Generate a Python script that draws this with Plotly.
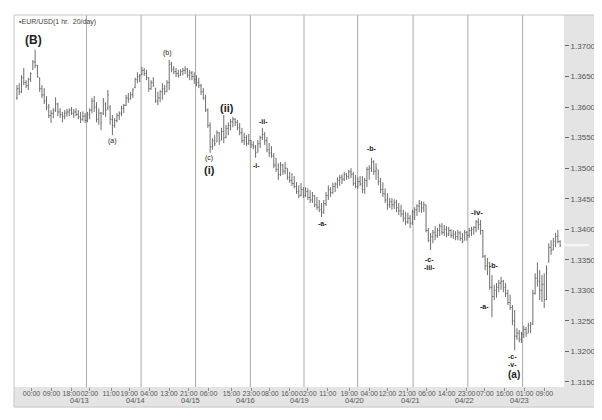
import plotly.graph_objects as go

# ---------------- data (hourly bars, index = bar number) ----------------
bar_high = [
 1.3636,1.3639,1.3652,1.3664,1.3644,1.3648,1.3657,1.3677,1.3694,1.3669,
 1.3648,1.3636,1.3631,1.3618,1.3605,1.3595,1.3598,1.3616,1.3607,1.3598,
 1.3592,1.3595,1.3597,1.3598,1.3600,1.3597,1.3598,1.3595,1.3592,1.3593,
 1.3590,1.3592,1.3598,1.3615,1.3618,1.3608,1.3598,1.3592,1.3615,1.3608,
 1.3628,1.3603,1.3587,1.3582,1.3590,1.3593,1.3602,1.3605,1.3620,1.3623,
 1.3625,1.3631,1.3648,1.3657,1.3654,1.3666,1.3664,1.3661,1.3649,1.3644,
 1.3649,1.3631,1.3625,1.3628,1.3639,1.3636,1.3644,1.3677,1.3674,1.3667,
 1.3664,1.3661,1.3662,1.3664,1.3667,1.3664,1.3661,1.3659,1.3657,1.3652,
 1.3648,1.3638,1.3631,1.3620,1.3598,1.3575,1.3549,1.3554,1.3562,1.3559,
 1.3566,1.3587,1.3571,1.3575,1.3580,1.3584,1.3582,1.3579,1.3574,1.3566,
 1.3558,1.3554,1.3556,1.3546,1.3544,1.3538,1.3546,1.3553,1.3566,1.3559,
 1.3551,1.3541,1.3536,1.3525,1.3517,1.3508,1.3510,1.3507,1.3510,1.3500,
 1.3494,1.3492,1.3487,1.3477,1.3472,1.3476,1.3469,1.3469,1.3467,1.3464,
 1.3461,1.3456,1.3453,1.3448,1.3443,1.3448,1.3461,1.3472,1.3469,1.3476,
 1.3477,1.3485,1.3489,1.3490,1.3494,1.3492,1.3497,1.3500,1.3494,1.3489,
 1.3485,1.3487,1.3487,1.3484,1.3502,1.3505,1.3517,1.3513,1.3508,1.3497,
 1.3484,1.3477,1.3467,1.3459,1.3451,1.3451,1.3449,1.3448,1.3443,1.3440,
 1.3432,1.3428,1.3427,1.3423,1.3432,1.3436,1.3441,1.3448,1.3446,1.3445,
 1.3440,1.3402,1.3394,1.3399,1.3405,1.3402,1.3409,1.3410,1.3407,1.3405,
 1.3404,1.3400,1.3399,1.3397,1.3399,1.3397,1.3394,1.3399,1.3397,1.3402,
 1.3404,1.3405,1.3415,1.3418,1.3415,1.3399,1.3358,1.3353,1.3346,1.3325,
 1.3309,1.3312,1.3317,1.3322,1.3317,1.3312,1.3301,1.3293,1.3276,1.3268,
 1.3238,1.3235,1.3232,1.3242,1.3240,1.3247,1.3248,1.3301,1.3328,1.3346,
 1.3333,1.3325,1.3328,1.3341,1.3377,1.3382,1.3386,1.3394,1.3399,1.3382]

bar_low = [
 1.3612,1.3620,1.3623,1.3636,1.3631,1.3628,1.3641,1.3661,1.3664,1.3648,
 1.3625,1.3615,1.3605,1.3595,1.3582,1.3574,1.3582,1.3592,1.3585,1.3582,
 1.3575,1.3580,1.3584,1.3585,1.3587,1.3582,1.3585,1.3580,1.3574,1.3577,
 1.3574,1.3575,1.3580,1.3590,1.3592,1.3575,1.3571,1.3562,1.3587,1.3584,
 1.3595,1.3571,1.3554,1.3566,1.3575,1.3579,1.3585,1.3590,1.3602,1.3607,
 1.3612,1.3615,1.3631,1.3639,1.3641,1.3652,1.3651,1.3644,1.3625,1.3628,
 1.3633,1.3607,1.3603,1.3608,1.3612,1.3620,1.3625,1.3628,1.3657,1.3654,
 1.3649,1.3648,1.3651,1.3652,1.3654,1.3648,1.3644,1.3644,1.3638,1.3634,
 1.3631,1.3620,1.3612,1.3592,1.3566,1.3525,1.3530,1.3536,1.3543,1.3538,
 1.3546,1.3541,1.3549,1.3554,1.3562,1.3567,1.3569,1.3562,1.3554,1.3541,
 1.3538,1.3536,1.3538,1.3533,1.3531,1.3517,1.3526,1.3533,1.3546,1.3538,
 1.3526,1.3518,1.3517,1.3500,1.3494,1.3481,1.3487,1.3489,1.3490,1.3481,
 1.3476,1.3471,1.3467,1.3458,1.3451,1.3454,1.3451,1.3453,1.3448,1.3443,
 1.3443,1.3436,1.3432,1.3428,1.3420,1.3425,1.3438,1.3448,1.3453,1.3458,
 1.3461,1.3467,1.3471,1.3474,1.3479,1.3481,1.3482,1.3484,1.3471,1.3467,
 1.3466,1.3471,1.3459,1.3458,1.3469,1.3481,1.3494,1.3489,1.3481,1.3472,
 1.3459,1.3453,1.3443,1.3432,1.3435,1.3432,1.3433,1.3428,1.3423,1.3420,
 1.3412,1.3407,1.3409,1.3402,1.3407,1.3415,1.3422,1.3428,1.3427,1.3428,
 1.3395,1.3379,1.3366,1.3377,1.3382,1.3386,1.3389,1.3391,1.3389,1.3387,
 1.3389,1.3386,1.3384,1.3382,1.3382,1.3381,1.3377,1.3382,1.3381,1.3386,
 1.3389,1.3391,1.3395,1.3399,1.3391,1.3353,1.3333,1.3325,1.3301,1.3256,
 1.3284,1.3288,1.3297,1.3301,1.3297,1.3289,1.3276,1.3268,1.3243,1.3202,
 1.3219,1.3215,1.3214,1.3222,1.3224,1.3230,1.3230,1.3243,1.3293,1.3306,
 1.3284,1.3281,1.3271,1.3284,1.3346,1.3358,1.3366,1.3371,1.3377,1.3371]

bar_open = [
 1.3615,1.3630,1.3625,1.3648,1.3640,1.3635,1.3645,1.3662,1.3674,1.3668,
 1.3648,1.3630,1.3620,1.3610,1.3600,1.3586,1.3590,1.3595,1.3605,1.3592,
 1.3588,1.3585,1.3590,1.3592,1.3595,1.3590,1.3592,1.3588,1.3584,1.3580,
 1.3585,1.3578,1.3588,1.3595,1.3610,1.3600,1.3580,1.3590,1.3590,1.3605,
 1.3598,1.3600,1.3580,1.3570,1.3578,1.3586,1.3590,1.3598,1.3603,1.3615,
 1.3614,1.3620,1.3632,1.3645,1.3650,1.3653,1.3660,1.3655,1.3648,1.3630,
 1.3640,1.3631,1.3610,1.3615,1.3625,1.3630,1.3625,1.3640,1.3670,1.3662,
 1.3658,1.3655,1.3652,1.3658,1.3660,1.3662,1.3652,1.3656,1.3650,1.3645,
 1.3640,1.3635,1.3625,1.3615,1.3595,1.3570,1.3535,1.3545,1.3543,1.3558,
 1.3546,1.3560,1.3550,1.3565,1.3570,1.3576,1.3580,1.3575,1.3566,1.3558,
 1.3545,1.3550,1.3540,1.3545,1.3538,1.3535,1.3526,1.3540,1.3550,1.3555,
 1.3545,1.3530,1.3525,1.3520,1.3505,1.3498,1.3490,1.3505,1.3495,1.3500,
 1.3485,1.3480,1.3475,1.3470,1.3462,1.3455,1.3465,1.3455,1.3462,1.3452,
 1.3448,1.3455,1.3440,1.3436,1.3432,1.3428,1.3442,1.3455,1.3465,1.3460,
 1.3470,1.3474,1.3480,1.3485,1.3482,1.3490,1.3486,1.3494,1.3490,1.3475,
 1.3470,1.3478,1.3474,1.3465,1.3480,1.3498,1.3500,1.3510,1.3495,1.3497,
 1.3478,1.3465,1.3458,1.3448,1.3440,1.3445,1.3440,1.3444,1.3435,1.3430,
 1.3425,1.3418,1.3412,1.3418,1.3410,1.3428,1.3432,1.3438,1.3442,1.3435,
 1.3440,1.3398,1.3382,1.3388,1.3395,1.3390,1.3398,1.3405,1.3395,1.3400,
 1.3392,1.3398,1.3390,1.3392,1.3388,1.3394,1.3385,1.3382,1.3395,1.3390,
 1.3398,1.3400,1.3403,1.3412,1.3408,1.3398,1.3356,1.3340,1.3345,1.3305,
 1.3290,1.3300,1.3305,1.3312,1.3315,1.3305,1.3295,1.3280,1.3272,1.3250,
 1.3225,1.3230,1.3220,1.3228,1.3236,1.3230,1.3242,1.3245,1.3295,1.3320,
 1.3315,1.3300,1.3310,1.3285,1.3346,1.3370,1.3366,1.3380,1.3388,1.3380]

bar_close = [
 1.3630,1.3625,1.3648,1.3640,1.3635,1.3645,1.3655,1.3674,1.3668,1.3650,
 1.3630,1.3620,1.3610,1.3600,1.3586,1.3590,1.3595,1.3605,1.3592,1.3588,
 1.3585,1.3590,1.3592,1.3595,1.3590,1.3592,1.3588,1.3584,1.3580,1.3585,
 1.3578,1.3588,1.3595,1.3610,1.3600,1.3580,1.3590,1.3575,1.3610,1.3595,
 1.3620,1.3580,1.3570,1.3578,1.3586,1.3590,1.3598,1.3603,1.3615,1.3612,
 1.3620,1.3628,1.3645,1.3650,1.3652,1.3660,1.3655,1.3648,1.3630,1.3640,
 1.3635,1.3610,1.3615,1.3625,1.3630,1.3625,1.3640,1.3670,1.3662,1.3658,
 1.3655,1.3652,1.3658,1.3660,1.3662,1.3652,1.3656,1.3650,1.3645,1.3640,
 1.3635,1.3625,1.3615,1.3595,1.3570,1.3535,1.3545,1.3540,1.3558,1.3545,
 1.3560,1.3550,1.3565,1.3570,1.3576,1.3580,1.3575,1.3566,1.3558,1.3545,
 1.3550,1.3540,1.3545,1.3538,1.3535,1.3525,1.3540,1.3550,1.3555,1.3545,
 1.3530,1.3525,1.3520,1.3505,1.3498,1.3490,1.3505,1.3495,1.3500,1.3485,
 1.3480,1.3475,1.3470,1.3462,1.3455,1.3465,1.3455,1.3462,1.3452,1.3448,
 1.3455,1.3440,1.3436,1.3432,1.3428,1.3442,1.3455,1.3465,1.3460,1.3470,
 1.3474,1.3480,1.3485,1.3482,1.3490,1.3486,1.3494,1.3490,1.3475,1.3470,
 1.3478,1.3474,1.3465,1.3480,1.3498,1.3500,1.3510,1.3495,1.3500,1.3478,
 1.3465,1.3458,1.3448,1.3440,1.3445,1.3440,1.3444,1.3435,1.3430,1.3425,
 1.3418,1.3412,1.3418,1.3410,1.3428,1.3432,1.3438,1.3442,1.3435,1.3440,
 1.3398,1.3382,1.3388,1.3395,1.3390,1.3398,1.3405,1.3395,1.3400,1.3392,
 1.3398,1.3390,1.3392,1.3388,1.3394,1.3385,1.3380,1.3395,1.3390,1.3398,
 1.3400,1.3403,1.3412,1.3408,1.3398,1.3356,1.3340,1.3345,1.3305,1.3290,
 1.3300,1.3305,1.3312,1.3315,1.3305,1.3295,1.3280,1.3272,1.3250,1.3225,
 1.3230,1.3220,1.3228,1.3236,1.3230,1.3242,1.3245,1.3295,1.3320,1.3315,
 1.3300,1.3310,1.3285,1.3335,1.3370,1.3365,1.3380,1.3388,1.3380,1.3374]

bar_index = list(range(len(bar_close)))

# time-of-day ticks (bar index, label)
time_tick_pos = [6.4, 15.2, 23.9, 31.9, 41.4, 49.4, 58.1, 66.9, 75.6, 84.3, 94.4,
                 103.1, 111.3, 120.0, 128.0, 136.8, 146.2, 155.0, 163.0, 171.7,
                 180.4, 189.1, 197.9, 205.9, 214.6, 223.4, 232.1]
time_tick_labels = ["00:00", "09:00", "18:00", "02:00", "11:00", "19:00", "04:00",
                    "13:00", "21:00", "06:00", "15:00", "23:00", "08:00", "16:00",
                    "02:00", "11:00", "19:00", "04:00", "12:00", "21:00", "06:00",
                    "14:00", "23:00", "07:00", "16:00", "01:00", "09:00"]

# day separators and date labels
day_breaks = [30.6, 54.6, 78.6, 102.7, 126.3, 149.9, 174.3, 198.4, 222.5]
date_labels = ["04/13", "04/14", "04/15", "04/16", "04/19", "04/20", "04/21", "04/22", "04/23"]
date_label_pos = [27.5, 52.0, 76.5, 100.5, 124.5, 148.5, 173.0, 197.0, 221.0]

# price ticks
price_ticks = [1.3150, 1.3200, 1.3250, 1.3300, 1.3350, 1.3400,
               1.3450, 1.3500, 1.3550, 1.3600, 1.3650, 1.3700]

# wave labels
wave_text = ["(B)", "(a)", "(b)", "(c)", "(i)", "(ii)", "-ii-", "-i-", "-a-", "-b-",
             "-c-", "-iii-", "-iv-", "-b-", "-a-", "-c-", "-v-", "(a)"]
wave_x = [7.4, 41.9, 66.4, 84.3, 84.8, 92.2, 108.4, 105.3, 134.6, 156.0,
          181.7, 181.7, 202.3, 209.7, 205.8, 218.0, 218.0, 218.5]
wave_y = [1.3710, 1.3545, 1.3689, 1.3517, 1.3497, 1.3599, 1.3577, 1.3505, 1.3409, 1.3533,
          1.3351, 1.3338, 1.3428, 1.3340, 1.3274, 1.3191, 1.3178, 1.3162]
wave_size = [12, 7, 7, 7, 11, 11, 7, 7, 7, 7, 7, 7, 8, 7, 7, 7, 7, 10]
wave_bold = [True, False, False, False, True, True, True, True, True, True,
             True, True, True, True, True, True, True, True]

last_price = 1.3374

# ---------------- figure ----------------
# the page body has an 8px margin, so the figure is sized/margined to put
# the plot area at page pixels x 14..568, y 15..387
FONT = "Liberation Sans, Arial, Helvetica, sans-serif"
fig = go.Figure()

fig.add_trace(go.Ohlc(
    x=bar_index, open=bar_open, high=bar_high, low=bar_low, close=bar_close,
    increasing=dict(line=dict(color="#6e6e6e", width=1)),
    decreasing=dict(line=dict(color="#6e6e6e", width=1)),
    tickwidth=0.4, hoverinfo="skip", showlegend=False))

shapes = []
shapes.append(dict(type="rect", xref="paper", yref="paper", x0=1.0, x1=1.058,
                   y0=-0.054, y1=1.0, fillcolor="#e4e4e4", line=dict(width=0), layer="below"))
shapes.append(dict(type="rect", xref="paper", yref="paper", x0=0.0, x1=1.058,
                   y0=-0.054, y1=0.0, fillcolor="#e4e4e4", line=dict(width=0), layer="below"))
shapes.append(dict(type="rect", xref="paper", yref="paper", x0=0.0, x1=1.058,
                   y0=-0.054, y1=1.0, line=dict(color="#c4c4c4", width=1), layer="above"))
for b in day_breaks:
    shapes.append(dict(type="line", xref="x", yref="paper", x0=b, x1=b, y0=0, y1=1,
                       line=dict(color="#a8a8a8", width=1), layer="below"))
shapes.append(dict(type="rect", xref="paper", yref="y", x0=1.0, x1=1.045,
                   y0=last_price - 0.00018, y1=last_price + 0.00018,
                   fillcolor="#f6f6f6", line=dict(width=0), layer="above"))

annotations = []
for t, xx, yy, s, b in zip(wave_text, wave_x, wave_y, wave_size, wave_bold):
    annotations.append(dict(x=xx, y=yy, xref="x", yref="y", text=f"<b>{t}</b>" if b else t,
                            showarrow=False, font=dict(family=FONT, size=s, color="#222222")))
for t, xx in zip(date_labels, date_label_pos):
    annotations.append(dict(x=xx, y=-0.0376, xref="x", yref="paper", yanchor="middle",
                            text=t, showarrow=False,
                            font=dict(family=FONT, size=7.5, color="#555555")))
annotations.append(dict(x=0.006, y=0.982, xref="paper", yref="paper", xanchor="left", yanchor="middle",
                        text="▪EUR/USD(1 hr.  20/day)", showarrow=False,
                        font=dict(family=FONT, size=7, color="#444444")))

fig.update_layout(
    width=594, height=412,
    margin=dict(l=6, r=34, t=7, b=33),
    paper_bgcolor="white", plot_bgcolor="white",
    shapes=shapes, annotations=annotations,
    font=dict(family=FONT),
    xaxis=dict(range=[-1.3, 240.7], rangeslider=dict(visible=False),
               tickmode="array", tickvals=time_tick_pos, ticktext=time_tick_labels,
               ticks="outside", ticklen=3, tickcolor="#8a8a8a", tickangle=0,
               ticklabelstandoff=-3,
               tickfont=dict(family=FONT, size=7, color="#555555"),
               showgrid=False, zeroline=False, showline=False),
    yaxis=dict(range=[1.31418, 1.37507], side="right",
               tickmode="array", tickvals=price_ticks,
               ticktext=[f"{p:.4f}" for p in price_ticks],
               ticks="outside", ticklen=4, tickcolor="#666666",
               tickfont=dict(family=FONT, size=8, color="#555555"),
               showgrid=False, zeroline=False, showline=False),
    hovermode=False,
)

fig.write_html("out.html")
